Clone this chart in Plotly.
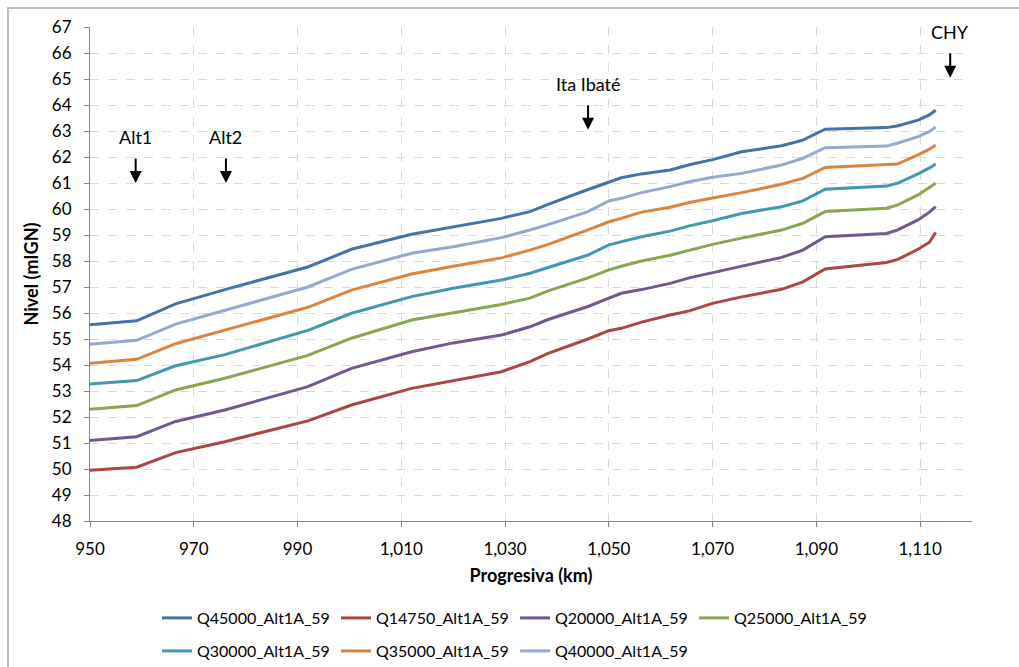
import plotly.graph_objects as go

# Progresiva (km)
progresiva = [950, 959, 966.5, 976, 992, 1000.4, 1012, 1020, 1029.3, 1034.8, 1038.3, 1046,
              1050, 1052.4, 1056.3, 1061.8, 1065.5, 1070, 1075.6, 1083.3, 1087.4, 1091.7,
              1103.5, 1105.6, 1109.6, 1111.8, 1113]

q45000 = [55.55, 55.70, 56.35, 56.90, 57.77, 58.45, 59.03, 59.30, 59.64, 59.90, 60.18, 60.75,
          61.05, 61.20, 61.35, 61.50, 61.70, 61.90, 62.20, 62.43, 62.65, 63.07,
          63.13, 63.19, 63.42, 63.62, 63.80]
q14750 = [49.95, 50.07, 50.63, 51.05, 51.85, 52.46, 53.10, 53.40, 53.74, 54.13, 54.45, 55.00,
          55.32, 55.41, 55.65, 55.92, 56.08, 56.37, 56.62, 56.91, 57.20, 57.69,
          57.94, 58.05, 58.45, 58.72, 59.10]
q20000 = [51.10, 51.24, 51.83, 52.27, 53.17, 53.87, 54.51, 54.85, 55.15, 55.47, 55.75, 56.25,
          56.57, 56.76, 56.90, 57.14, 57.35, 57.55, 57.82, 58.14, 58.42, 58.93,
          59.06, 59.19, 59.58, 59.88, 60.09]
q25000 = [52.30, 52.44, 53.04, 53.49, 54.37, 55.03, 55.73, 56.00, 56.33, 56.57, 56.85, 57.35,
          57.66, 57.80, 58.00, 58.22, 58.42, 58.64, 58.88, 59.19, 59.45, 59.90,
          60.03, 60.15, 60.54, 60.82, 60.99]
q30000 = [53.27, 53.40, 53.97, 54.40, 55.33, 55.99, 56.63, 56.95, 57.27, 57.53, 57.75, 58.23,
          58.62, 58.74, 58.93, 59.15, 59.35, 59.55, 59.83, 60.09, 60.31, 60.76,
          60.88, 60.99, 61.35, 61.58, 61.73]
q35000 = [54.07, 54.22, 54.82, 55.35, 56.22, 56.88, 57.50, 57.80, 58.12, 58.42, 58.64, 59.20,
          59.51, 59.64, 59.88, 60.07, 60.25, 60.42, 60.63, 60.95, 61.18, 61.60,
          61.69, 61.73, 62.08, 62.30, 62.46]
q40000 = [54.80, 54.95, 55.57, 56.10, 57.00, 57.68, 58.30, 58.55, 58.90, 59.19, 59.40, 59.90,
          60.31, 60.41, 60.63, 60.86, 61.05, 61.22, 61.37, 61.69, 61.95, 62.36,
          62.42, 62.53, 62.78, 62.98, 63.14]

series_names = ["Q45000_Alt1A_59", "Q14750_Alt1A_59", "Q20000_Alt1A_59", "Q25000_Alt1A_59",
                "Q30000_Alt1A_59", "Q35000_Alt1A_59", "Q40000_Alt1A_59"]
series_values = [q45000, q14750, q20000, q25000, q30000, q35000, q40000]
colors = ["#4572A7", "#AA4643", "#71588F", "#89A54E", "#4198AF", "#DB843D", "#93A9CF"]

# Markers (label, km, tip level)
marker_labels = ["Alt1", "Alt2", "Ita Ibaté", "CHY"]
marker_km = [958.8, 976.2, 1046.0, 1115.8]
marker_tip = [61.0, 61.0, 63.05, 65.05]

x_ticks = list(range(950, 1111, 20))
y_ticks = list(range(48, 68))

FONT = "Lato, 'Open Sans', sans-serif"

fig = go.Figure()
for i, (name, vals, col) in enumerate(zip(series_names, series_values, colors)):
    fig.add_trace(go.Scatter(
        x=progresiva, y=vals, name=name, mode="lines",
        line=dict(color=col, width=3),
        legend="legend" if i < 4 else "legend2",
    ))

for lab, km, tip in zip(marker_labels, marker_km, marker_tip):
    fig.add_annotation(x=km, y=tip, xref="x", yref="y", text="", showarrow=True,
                       arrowhead=2, arrowsize=1.2, arrowwidth=2, arrowcolor="black",
                       ax=0, ay=-26)
    fig.add_annotation(x=km, y=tip, xref="x", yref="y", text=lab, showarrow=False,
                       yshift=46, font=dict(family=FONT, size=18, color="black"))

# outer chart border
fig.add_shape(type="rect", xref="paper", yref="paper",
              x0=-82 / 882, x1=1.08, y0=-0.4, y1=1 + 19 / 494,
              line=dict(color="#bfbfbf", width=2), layer="below")

legend_common = dict(orientation="h", xanchor="left", yanchor="middle",
                     font=dict(family=FONT, size=16, color="black"),
                     entrywidth=134, itemwidth=30, bgcolor="rgba(0,0,0,0)",
                     tracegroupgap=0)

fig.update_layout(
    width=1019, height=667,
    margin=dict(l=90, r=47, t=27, b=146, autoexpand=False),
    paper_bgcolor="white", plot_bgcolor="white",
    font=dict(family=FONT, size=17, color="black"),
    showlegend=True,
    legend=dict(x=(157 - 90) / 882, y=-(618 - 521) / 494, **legend_common),
    legend2=dict(x=(157 - 90) / 882, y=-(651 - 521) / 494, **legend_common),
    xaxis=dict(range=[950, 1120], tickvals=x_ticks, tickformat=",",
               showgrid=True, gridcolor="#d9d9d9", griddash="dash", gridwidth=1,
               showline=True, linecolor="#868686", linewidth=1,
               ticks="outside", ticklen=5, tickcolor="#868686",
               ticklabelstandoff=8,
               tickfont=dict(family=FONT, size=17, color="black"),
               zeroline=False,
               title=dict(text="<b>Progresiva (km)</b>", standoff=10,
                          font=dict(family=FONT, size=18, color="black"))),
    yaxis=dict(range=[48, 67], tickvals=y_ticks,
               showgrid=True, gridcolor="#d9d9d9", griddash="dash", gridwidth=1,
               showline=True, linecolor="#868686", linewidth=1,
               ticks="outside", ticklen=5, tickcolor="#868686",
               ticklabelstandoff=9,
               tickfont=dict(family=FONT, size=17, color="black"),
               zeroline=False,
               title=dict(text="<b>Nivel (mIGN)</b>", standoff=8,
                          font=dict(family=FONT, size=18, color="black"))),
)

fig.write_html("out.html")
